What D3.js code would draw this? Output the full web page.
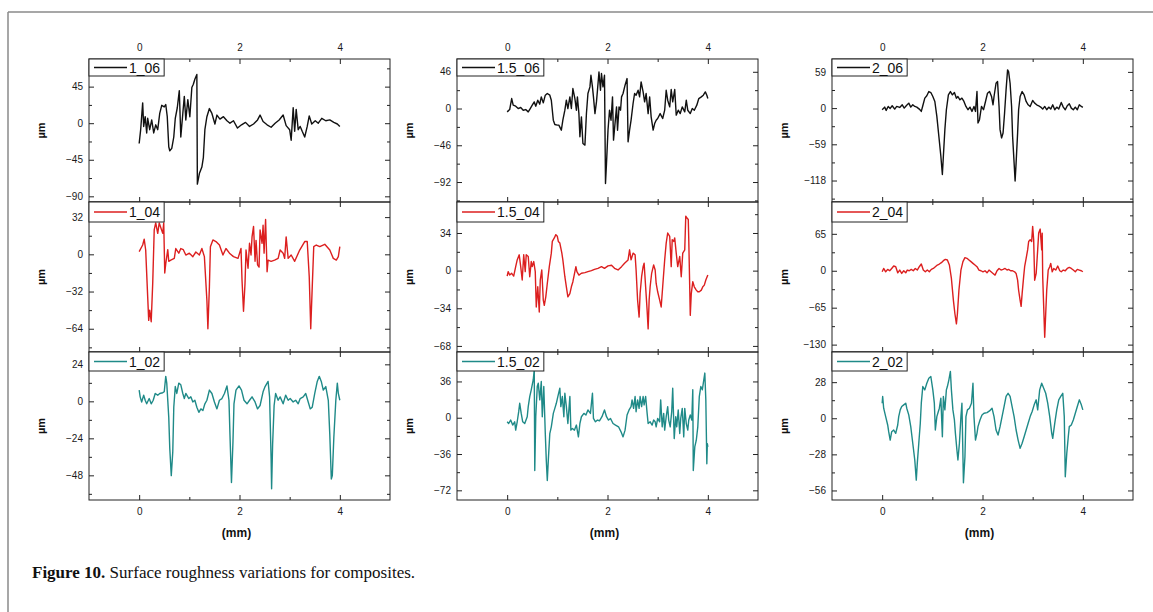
<!DOCTYPE html>
<html><head><meta charset="utf-8">
<script src="https://cdn.jsdelivr.net/npm/d3@7"></script>
<style>body{margin:0;background:#fff} svg{display:block}</style>
</head><body>
<svg id="c" width="1153" height="612"></svg>
<script>
// ---------- data (x in mm, y in µm) ----------
const s1_06 = [[0,-25],[0.03,-8],[0.07,25],[0.09,-4],[0.12,8],[0.15,-12],[0.17,6],[0.21,-8],[0.25,4],[0.29,-12],[0.33,-2],[0.37,-8],[0.41,12],[0.45,22],[0.50,20],[0.53,23],[0.56,8],[0.59,-29],[0.61,-34],[0.65,-31],[0.69,-17],[0.72,6],[0.76,19],[0.80,40],[0.83,-17],[0.87,12],[0.90,33],[0.93,4],[0.97,29],[1.01,8],[1.05,44],[1.08,48],[1.11,54],[1.15,60],[1.16,-75],[1.20,-62],[1.25,-54],[1.28,-42],[1.31,-8],[1.35,8],[1.40,18],[1.45,12],[1.51,-1],[1.55,10],[1.61,5],[1.68,8],[1.75,3],[1.81,0],[1.88,3],[1.96,-6],[2.04,-2],[2.12,1],[2.20,-4],[2.28,-1],[2.36,4],[2.41,10],[2.47,2],[2.55,-2],[2.63,-5],[2.71,0],[2.79,4],[2.87,10],[2.93,-3],[3.00,-8],[3.03,-21],[3.07,19],[3.10,-10],[3.13,17],[3.17,-8],[3.21,-4],[3.25,-10],[3.30,-17],[3.35,-4],[3.39,9],[3.44,-1],[3.51,3],[3.57,0],[3.64,6],[3.72,3],[3.80,4],[3.88,1],[3.95,-1],[4.00,-4]];
const s1_04 = [[0,2.3],[0.07,8],[0.10,13],[0.13,3.7],[0.17,-36.6],[0.19,-56.8],[0.21,-48],[0.24,-58],[0.27,-25],[0.30,21],[0.33,27],[0.37,18],[0.40,27],[0.47,18],[0.49,27],[0.51,-16],[0.53,-8],[0.57,4],[0.59,-6],[0.63,-5],[0.70,-3.5],[0.73,5],[0.79,1],[0.83,5],[0.88,4],[0.93,-0.6],[1.00,1],[1.07,-2],[1.13,2],[1.20,-0.6],[1.25,5],[1.30,-2],[1.35,-39.5],[1.37,-64],[1.40,-28],[1.42,6.6],[1.47,12.4],[1.53,11],[1.60,8],[1.67,-0.6],[1.73,5],[1.80,1],[1.88,-2],[1.97,-3.5],[2.03,5],[2.05,-22],[2.08,-49],[2.11,-25],[2.13,3.7],[2.17,-12],[2.20,9.5],[2.23,-0.6],[2.25,15],[2.28,24],[2.31,-6],[2.33,12],[2.36,-9],[2.39,-11],[2.41,21],[2.45,9.5],[2.47,25],[2.49,1],[2.52,30],[2.55,-15],[2.57,-5],[2.63,-6],[2.70,-5],[2.77,-3.5],[2.81,3.7],[2.87,1],[2.90,-3.5],[2.93,15],[2.97,-3.5],[3.03,-0.6],[3.10,-6],[3.20,3.7],[3.30,11],[3.35,11],[3.39,-19],[3.42,-64],[3.45,-28],[3.48,6.6],[3.53,8],[3.60,6.6],[3.70,8.6],[3.80,3.7],[3.87,-3.5],[3.93,-5],[3.97,-2],[4.00,6.6]];
const s1_02 = [[0,7.3],[0.02,2.9],[0.05,-0.4],[0.09,4],[0.12,0.7],[0.15,-1.6],[0.20,1.8],[0.24,-1.6],[0.28,0.7],[0.32,5.1],[0.37,4],[0.41,5.1],[0.47,5.6],[0.50,6.2],[0.53,16.2],[0.55,11.8],[0.59,-10.4],[0.61,-30.4],[0.64,-48.2],[0.67,-32.7],[0.69,-3.8],[0.72,9.6],[0.75,5.1],[0.79,11.8],[0.83,10.7],[0.87,5.1],[0.90,1.8],[0.93,5.1],[0.99,1.8],[1.03,2.9],[1.07,-0.4],[1.11,0.7],[1.15,-3.8],[1.19,-7.1],[1.23,-4.9],[1.27,-6],[1.31,-1.6],[1.35,0.7],[1.40,7.3],[1.45,5.1],[1.50,-0.4],[1.55,-4.9],[1.60,0.7],[1.65,1.8],[1.70,5.1],[1.75,10],[1.79,0.7],[1.81,-21.6],[1.84,-52.7],[1.87,-26],[1.89,-1.6],[1.93,7.3],[1.99,10],[2.04,7.3],[2.09,0.7],[2.15,-1.6],[2.20,0.7],[2.25,2.9],[2.31,-0.4],[2.36,-4.9],[2.41,-2.7],[2.47,6.2],[2.51,9.6],[2.55,11.8],[2.57,12.9],[2.60,2.9],[2.63,-37.1],[2.64,-56.7],[2.66,-28.2],[2.69,-2.7],[2.72,5.1],[2.77,0.7],[2.81,2.9],[2.87,-1.6],[2.92,4],[2.97,0.7],[3.01,1.8],[3.07,-0.4],[3.12,0.7],[3.17,-1.6],[3.21,1.8],[3.27,2.9],[3.32,5.1],[3.37,-0.4],[3.41,-4.9],[3.45,-3.8],[3.50,5.1],[3.55,12.9],[3.59,16.2],[3.63,12.9],[3.67,7.3],[3.72,9.6],[3.77,0.7],[3.80,-21.6],[3.83,-50.4],[3.85,-48.2],[3.88,-23.8],[3.92,0.7],[3.95,11.8],[3.97,5.1],[4.00,0.7]];
const s15_06 = [[0,-4.2],[0.05,-1.3],[0.09,12.5],[0.12,4.2],[0.17,2.9],[0.22,0],[0.27,1.3],[0.32,-2.1],[0.37,-1.3],[0.42,-4.2],[0.46,0],[0.50,4.2],[0.54,8.3],[0.57,2.9],[0.61,10.4],[0.65,5.4],[0.68,14.6],[0.72,7.1],[0.76,16.7],[0.80,18.8],[0.85,16.7],[0.88,10.4],[0.92,-14.6],[0.95,-20],[1.00,-20.8],[1.03,-20.8],[1.08,-27.1],[1.11,-14.6],[1.15,-2.1],[1.18,10.4],[1.21,0],[1.25,14.6],[1.28,0],[1.31,25],[1.35,12.5],[1.38,-2.1],[1.40,14.6],[1.43,-6.3],[1.45,-35.4],[1.48,-10.4],[1.51,-43.8],[1.55,-45.8],[1.58,-6.3],[1.61,18.8],[1.65,27.1],[1.67,41.7],[1.70,27.1],[1.72,14.6],[1.75,-6.3],[1.78,8.3],[1.80,22.9],[1.83,45.8],[1.86,22.9],[1.88,43.8],[1.91,27.1],[1.94,41.7],[1.96,-93.8],[1.98,-68.8],[2.01,-27.1],[2.04,-2.1],[2.07,-14.6],[2.10,14.6],[2.12,-39.6],[2.15,-18.8],[2.18,2.1],[2.20,-27.1],[2.23,2.1],[2.26,-2.1],[2.28,14.6],[2.31,18.8],[2.35,29.2],[2.39,37.5],[2.41,-41.7],[2.44,-27.1],[2.47,-14.6],[2.51,6.3],[2.54,18.8],[2.57,16.7],[2.61,22.9],[2.64,14.6],[2.67,33.3],[2.71,20.8],[2.74,8.3],[2.77,18.8],[2.81,-6.3],[2.84,14.6],[2.87,-10.4],[2.91,-27.1],[2.94,-18.8],[2.97,-14.6],[3.00,-12.5],[3.05,-6.3],[3.10,-12.5],[3.14,-2.1],[3.17,22.9],[3.20,10.4],[3.24,2.1],[3.27,23.8],[3.30,8.3],[3.34,23.8],[3.37,-8.3],[3.41,-2.1],[3.45,-6.3],[3.49,2.1],[3.54,-4.2],[3.57,10.4],[3.60,-2.1],[3.65,-6.3],[3.69,0],[3.73,-2.1],[3.78,4.2],[3.82,12.5],[3.87,14.6],[3.91,16.7],[3.95,20.8],[3.98,16.7],[4.00,12.5]];
const s15_04 = [[0,-4.9],[0.02,-0.9],[0.05,-4],[0.09,-2.4],[0.13,-4.9],[0.17,3.6],[0.20,9.7],[0.24,14.3],[0.27,3.6],[0.30,-8.5],[0.33,14.3],[0.36,-0.9],[0.38,14.3],[0.42,12.8],[0.45,-5.5],[0.48,8.2],[0.50,3.6],[0.53,8.2],[0.56,-0.9],[0.58,-32.8],[0.61,-14.6],[0.64,-37.4],[0.66,-8.5],[0.69,0.6],[0.72,-26.7],[0.74,-31.3],[0.77,-23.7],[0.80,-11.6],[0.84,3.6],[0.88,15.8],[0.90,26.4],[0.94,29.5],[0.97,32.5],[1.00,31],[1.02,26.4],[1.05,24.9],[1.09,15.8],[1.11,9.7],[1.15,-5.5],[1.18,-14.6],[1.21,-23.7],[1.25,-20.7],[1.28,-14.6],[1.31,-10],[1.35,-0.9],[1.37,3.6],[1.39,-0.9],[1.43,-4],[1.48,-2.4],[1.55,-1.8],[1.61,-0.9],[1.68,0],[1.74,1.2],[1.81,2.1],[1.88,3.6],[1.94,2.1],[2.01,4.3],[2.08,4.9],[2.14,2.1],[2.21,0.6],[2.28,3.6],[2.34,6.7],[2.41,9.7],[2.44,18.8],[2.47,9.7],[2.51,15.8],[2.55,14.3],[2.57,0.6],[2.60,-26.7],[2.63,-42],[2.65,-20.7],[2.68,-5.5],[2.71,3.6],[2.73,6.7],[2.76,-14.6],[2.79,-35.9],[2.81,-52.6],[2.83,-26.7],[2.85,-14.6],[2.88,-2.4],[2.92,5.2],[2.95,0.6],[2.97,-11.6],[3.00,-19.1],[3.04,-26.7],[3.07,-32.8],[3.10,-14.6],[3.14,9.7],[3.17,24.9],[3.20,34],[3.24,31],[3.27,3.6],[3.29,28],[3.32,26.4],[3.34,29.5],[3.37,15.8],[3.40,3.6],[3.44,12.8],[3.47,-5.5],[3.50,15.8],[3.54,18.8],[3.56,49.2],[3.58,47.7],[3.61,46.2],[3.62,28],[3.65,-40.4],[3.67,-20.7],[3.70,-10],[3.73,-14.6],[3.77,-17.6],[3.80,-19.1],[3.83,-19.1],[3.87,-17.6],[3.90,-14.6],[3.93,-13.1],[3.96,-8.5],[4.00,-4]];
const s15_02 = [[0,-4],[0.03,-5.7],[0.07,-2.3],[0.11,-7.3],[0.15,-4],[0.17,-12.3],[0.20,-4],[0.23,6],[0.25,14.3],[0.28,4.3],[0.31,-4],[0.35,-5.7],[0.40,1],[0.42,11],[0.45,21],[0.48,27.7],[0.52,37.7],[0.54,47.7],[0.55,-52.3],[0.57,1],[0.60,31],[0.62,34.3],[0.65,17.7],[0.68,36],[0.70,1],[0.73,31],[0.76,-15.7],[0.78,-42.3],[0.80,-62.3],[0.82,-42.3],[0.85,-15.7],[0.88,-9],[0.92,4.3],[0.95,9.3],[0.98,14.3],[1.01,21],[1.05,29.3],[1.07,11],[1.10,21],[1.13,1],[1.15,24.3],[1.18,11],[1.21,-5.7],[1.25,21],[1.27,-12.3],[1.30,-10.7],[1.34,-12.3],[1.38,-7.3],[1.42,-19],[1.45,-5.7],[1.48,1],[1.53,4.3],[1.57,2.7],[1.61,7.7],[1.66,4.3],[1.70,24.3],[1.72,-0.7],[1.76,-4],[1.80,-2.3],[1.84,-3],[1.89,1],[1.94,7.7],[1.98,1],[2.02,-2.3],[2.06,-0.7],[2.11,-5.7],[2.16,-7.3],[2.22,-9],[2.27,-14],[2.31,-19],[2.35,-12.3],[2.39,2.7],[2.43,7.7],[2.47,11],[2.49,17.7],[2.52,9.3],[2.55,21],[2.57,6],[2.60,17.7],[2.63,9.3],[2.65,21],[2.68,11],[2.71,21],[2.73,12.7],[2.76,21],[2.79,4.3],[2.81,-5.7],[2.85,-4],[2.89,-7.3],[2.92,-2.3],[2.95,-4],[2.97,-9],[3.00,-0.7],[3.04,-4],[3.06,17.7],[3.09,-9],[3.12,4.3],[3.14,-12.3],[3.17,1],[3.20,11],[3.22,-2.3],[3.25,-9],[3.28,6],[3.30,29.3],[3.33,-20.7],[3.36,1],[3.38,-9],[3.41,7.7],[3.44,-15.7],[3.46,-0.7],[3.49,9.3],[3.52,-19],[3.54,9.3],[3.57,-5.7],[3.60,-12.3],[3.62,-2.3],[3.65,2.7],[3.68,-2.3],[3.70,27.7],[3.71,-52.3],[3.74,-29],[3.77,-22.3],[3.80,-9],[3.83,21],[3.86,31],[3.89,27.7],[3.91,34.3],[3.94,44.3],[3.96,17.7],[3.98,-45.7],[3.99,-25.7],[4.00,-29]];
const s2_06 = [[0,-2.7],[0.05,1.6],[0.08,-3.8],[0.12,2.7],[0.16,-0.5],[0.20,3.8],[0.25,-1.6],[0.29,2.7],[0.35,1.1],[0.40,5.4],[0.44,0],[0.48,3.8],[0.53,8.1],[0.57,1.6],[0.61,5.4],[0.65,2.7],[0.69,1.6],[0.74,-1.6],[0.78,-5.4],[0.81,3.8],[0.85,16.2],[0.89,20],[0.93,27],[0.97,25.4],[1.01,18.9],[1.05,10.8],[1.09,-13.5],[1.13,-45.9],[1.17,-78.4],[1.20,-108.1],[1.22,-78.4],[1.25,-35.1],[1.28,-2.7],[1.32,21.6],[1.36,27],[1.40,21.6],[1.44,25.4],[1.48,16.2],[1.51,18.9],[1.55,13.5],[1.59,16.2],[1.63,10.8],[1.67,2.7],[1.71,-2.7],[1.75,1.6],[1.79,-5.4],[1.83,2.7],[1.86,-5.4],[1.89,27],[1.91,-24.3],[1.94,-18.9],[1.98,2.7],[2.02,-2.7],[2.06,10.8],[2.10,24.3],[2.14,27],[2.18,18.9],[2.21,5.4],[2.23,18.9],[2.27,40.5],[2.30,43.2],[2.33,2.7],[2.35,-35.1],[2.38,-48.6],[2.41,-40.5],[2.44,-8.1],[2.47,29.7],[2.50,62.2],[2.52,59.5],[2.55,40.5],[2.58,2.7],[2.60,-45.9],[2.63,-89.2],[2.65,-118.9],[2.67,-89.2],[2.70,-40.5],[2.72,-2.7],[2.75,18.9],[2.79,27],[2.83,21.6],[2.87,10.8],[2.91,5.4],[2.95,2.7],[3.00,12.4],[3.04,8.1],[3.08,5.4],[3.12,3.8],[3.16,1.6],[3.20,-1.6],[3.24,2.7],[3.28,-2.7],[3.32,1.6],[3.36,-1.6],[3.40,5.4],[3.44,-2.7],[3.48,1.6],[3.52,-1.6],[3.57,9.2],[3.61,1.6],[3.65,-2.7],[3.69,3.8],[3.73,7],[3.77,0],[3.81,-2.7],[3.85,1.6],[3.89,-2.7],[3.93,5.4],[3.97,2.7],[4.00,1.1]];
const s2_04 = [[0,-1.8],[0.03,4.1],[0.07,-1.8],[0.11,2.4],[0.15,0],[0.19,4.1],[0.23,8.3],[0.27,7.1],[0.31,-3.6],[0.35,1.2],[0.39,-4.7],[0.43,0],[0.47,-3.6],[0.50,1.2],[0.54,0],[0.58,2.4],[0.62,0],[0.66,4.1],[0.70,1.2],[0.74,7.1],[0.78,11.8],[0.82,1.2],[0.86,-1.8],[0.90,1.2],[0.94,-1.8],[0.98,2.4],[1.02,4.1],[1.06,7.1],[1.10,10.1],[1.14,11.8],[1.18,14.2],[1.22,17.8],[1.26,20.1],[1.30,18.9],[1.34,10.1],[1.38,-13.6],[1.42,-52.1],[1.45,-75.7],[1.48,-93.5],[1.50,-75.7],[1.53,-34.3],[1.57,1.2],[1.61,16],[1.65,23.1],[1.69,21.9],[1.73,18.9],[1.77,16],[1.81,13],[1.85,10.1],[1.89,7.1],[1.93,1.2],[1.97,0],[2.01,-1.8],[2.05,0],[2.09,-3.6],[2.13,1.2],[2.17,-1.8],[2.21,-4.7],[2.25,-7.7],[2.29,0],[2.33,4.1],[2.37,1.2],[2.41,2.4],[2.45,4.1],[2.49,1.2],[2.52,2.4],[2.56,0],[2.60,0],[2.64,-1.8],[2.67,-4.7],[2.70,-16.6],[2.72,-34.3],[2.75,-52.1],[2.77,-62.7],[2.79,-40.2],[2.82,-10.7],[2.84,7.1],[2.87,21.9],[2.90,36.7],[2.92,51.5],[2.95,54.4],[2.98,51.5],[3.00,78.1],[3.02,54.4],[3.04,-16.6],[3.07,-4.7],[3.10,36.7],[3.12,66.3],[3.15,73.4],[3.18,36.7],[3.19,66.3],[3.20,-10.7],[3.22,-63.9],[3.24,-117.2],[3.26,-75.7],[3.28,-34.3],[3.31,1.2],[3.34,7.1],[3.36,13],[3.39,-1.8],[3.42,4.1],[3.46,1.2],[3.50,8.3],[3.54,0],[3.57,-1.8],[3.61,1.2],[3.65,0],[3.69,4.1],[3.73,5.9],[3.77,4.1],[3.81,1.2],[3.85,-1.8],[3.89,2.4],[3.93,1.2],[3.97,0],[4.00,-1.8]];
const s2_02 = [[0,11.7],[0.01,16.9],[0.03,7.8],[0.07,1.3],[0.11,-5.2],[0.13,-10.4],[0.16,-16.9],[0.19,-10.4],[0.23,-9.1],[0.27,-11.7],[0.31,-5.2],[0.33,1.3],[0.36,6.5],[0.39,9.1],[0.43,10.4],[0.47,11.7],[0.49,7.8],[0.53,2.6],[0.57,-6.5],[0.61,-19.4],[0.65,-32.4],[0.68,-48],[0.70,-35],[0.73,-19.4],[0.76,-3.9],[0.78,11.7],[0.81,24.6],[0.85,22],[0.89,27.2],[0.93,31.1],[0.97,32.4],[1.01,22],[1.04,11.7],[1.06,-9.1],[1.09,1.3],[1.12,5.2],[1.14,7.8],[1.17,15.6],[1.20,-14.3],[1.22,16.9],[1.25,6.5],[1.28,22],[1.30,24.6],[1.33,29.8],[1.36,36.3],[1.38,22],[1.41,6.5],[1.44,-1.3],[1.46,-11.7],[1.49,-24.6],[1.51,-32.4],[1.54,-19.4],[1.57,1.3],[1.59,11.7],[1.62,-50],[1.65,-29.8],[1.67,1.3],[1.70,6.5],[1.74,7.8],[1.78,11.7],[1.81,27.2],[1.83,1.3],[1.86,-16.9],[1.89,-11.7],[1.91,-6.5],[1.95,-1.3],[1.99,2.6],[2.03,3.9],[2.09,4.4],[2.14,5.7],[2.19,7.8],[2.23,1.3],[2.27,-9.1],[2.31,-13],[2.35,-6.5],[2.39,1.3],[2.43,9.1],[2.47,16.9],[2.51,19.4],[2.55,16.9],[2.59,9.1],[2.63,1.3],[2.67,-9.1],[2.71,-16.9],[2.75,-23.3],[2.79,-19.4],[2.83,-14.3],[2.87,-9.1],[2.91,-3.9],[2.95,1.3],[2.99,5.2],[3.03,10.4],[3.07,14.3],[3.10,6.5],[3.14,22],[3.18,27.2],[3.22,23.3],[3.26,19.4],[3.30,11.7],[3.34,1.3],[3.38,-11.7],[3.40,-15.6],[3.44,-3.9],[3.48,6.5],[3.52,14.3],[3.56,16.9],[3.60,19.4],[3.63,1.3],[3.65,-45.4],[3.68,-27.2],[3.71,-14.3],[3.73,-6.5],[3.77,-5.2],[3.81,-1.3],[3.85,3.9],[3.89,9.1],[3.93,14.3],[3.97,10.4],[4.00,6.5]];

const seriesNames = [["1_06","1_04","1_02"],["1.5_06","1.5_04","1.5_02"],["2_06","2_04","2_02"]];
const seriesData  = [[s1_06,s1_04,s1_02],[s15_06,s15_04,s15_02],[s2_06,s2_04,s2_02]];
const yTickSets = [[[-90,-45,0,45],[-64,-32,0,32],[-48,-24,0,24]],
                   [[-92,-46,0,46],[-68,-34,0,34],[-72,-36,0,36]],
                   [[-118,-59,0,59],[-130,-65,0,65],[-56,-28,0,28]]];
const yDomains = [[[-97,79],[-84,45],[-64,32]],
                  [[-117,62],[-73.5,62],[-81.6,65.2]],
                  [[-153,80],[-143,121],[-63.4,51.4]]];
const xDomain = [-1,5];
const xTicks = [0,2,4];
const xMinorTicks = [1,3];
const xLabel = "(mm)";
const yLabel = "µm";
const caption = ["Figure 10.", " Surface roughness variations for composites."];

// ---------- layout ----------
const colLeft = [89, 457, 832];
const plotW = 301;
const rowTop = [59, 202, 352];
const rowBot = [202, 352, 500];
const legendH = [17, 20, 19];
const colors = ["#111111", "#dc1f1f", "#1f8a88"];
const axisFont = "'Liberation Sans', Arial, sans-serif";

const svg = d3.select("#c");

// outer frame (page border)
svg.append("line").attr("x1",8).attr("x2",1153).attr("y1",12).attr("y2",12).attr("stroke","#8a8a8a").attr("stroke-width",1.5);
svg.append("line").attr("x1",8).attr("x2",8).attr("y1",12).attr("y2",612).attr("stroke","#8a8a8a").attr("stroke-width",1.5);

function styleAxis(g){
  g.select(".domain").remove();
  g.selectAll(".tick line").attr("stroke","#222").attr("stroke-width",1);
  g.selectAll(".tick text").attr("fill","#1a1a1a").style("font-family",axisFont).style("font-size","10px");
}

seriesData.forEach((col, c) => {
  const L = colLeft[c];
  const x = d3.scaleLinear().domain(xDomain).range([L, L + plotW]);
  col.forEach((data, r) => {
    const top = rowTop[r], bot = rowBot[r];
    const y = d3.scaleLinear().domain(yDomains[c][r]).range([bot, top]);
    const majors = yTickSets[c][r];
    const step = (majors[1]-majors[0]) / 2;
    const dom = yDomains[c][r];
    const minors = d3.range(Math.ceil(dom[0]/step), Math.floor(dom[1]/step)+1).map(k => k*step).filter(v => !majors.includes(v));

    const clipId = "clip" + c + r;
    svg.append("clipPath").attr("id", clipId).append("rect")
      .attr("x", L).attr("y", top).attr("width", plotW).attr("height", bot - top);

    // trace
    svg.append("path").datum(data)
      .attr("clip-path", `url(#${clipId})`)
      .attr("fill","none").attr("stroke", colors[r]).attr("stroke-width",1.4)
      .attr("stroke-linejoin","round")
      .attr("d", d3.line().x(d => x(d[0])).y(d => y(d[1])));

    // y axes (left with labels, right mirrored)
    svg.append("g").attr("transform",`translate(${L},0)`)
      .call(d3.axisLeft(y).tickValues(majors).tickSize(-5).tickPadding(6).tickFormat(d3.format("d"))).call(styleAxis);
    svg.append("g").attr("transform",`translate(${L},0)`)
      .call(d3.axisLeft(y).tickValues(minors).tickSize(-3).tickFormat("")).call(styleAxis);
    svg.append("g").attr("transform",`translate(${L+plotW},0)`)
      .call(d3.axisRight(y).tickValues(majors).tickSize(-5).tickFormat("")).call(styleAxis);
    svg.append("g").attr("transform",`translate(${L+plotW},0)`)
      .call(d3.axisRight(y).tickValues(minors).tickSize(-3).tickFormat("")).call(styleAxis);

    // x axes (top and bottom of each panel)
    svg.append("g").attr("transform",`translate(0,${top})`)
      .call(d3.axisTop(x).tickValues(xTicks).tickSize(-5).tickPadding(8).tickFormat(r === 0 ? d3.format("d") : "")).call(styleAxis);
    svg.append("g").attr("transform",`translate(0,${top})`)
      .call(d3.axisTop(x).tickValues(xMinorTicks).tickSize(-3).tickFormat("")).call(styleAxis);
    svg.append("g").attr("transform",`translate(0,${bot})`)
      .call(d3.axisBottom(x).tickValues(xTicks).tickSize(-5).tickPadding(8).tickFormat(r === 2 ? d3.format("d") : "")).call(styleAxis);
    svg.append("g").attr("transform",`translate(0,${bot})`)
      .call(d3.axisBottom(x).tickValues(xMinorTicks).tickSize(-3).tickFormat("")).call(styleAxis);

    // frame
    svg.append("rect").attr("x", L).attr("y", top).attr("width", plotW).attr("height", bot - top)
      .attr("fill","none").attr("stroke","#222").attr("stroke-width",1);

    // legend
    const lg = svg.append("g").attr("transform",`translate(${L},${top})`);
    const rect = lg.append("rect").attr("x",0).attr("y",0).attr("height",legendH[r])
      .attr("fill","#fff").attr("stroke","#222").attr("stroke-width",1);
    lg.append("line").attr("x1",5).attr("x2",38).attr("y1",legendH[r]/2).attr("y2",legendH[r]/2)
      .attr("stroke",colors[r]).attr("stroke-width",1.3);
    const t = lg.append("text").attr("x",40).attr("y",legendH[r]/2).attr("dy","0.36em")
      .style("font-family",axisFont).style("font-size","14px").attr("fill","#111")
      .text(seriesNames[c][r]);
    const tw = t.node().getComputedTextLength();
    rect.attr("width", 40 + tw + 4);

    // y label
    svg.append("text")
      .attr("transform",`translate(${L-44},${(top+bot)/2}) rotate(-90)`)
      .attr("text-anchor","middle")
      .style("font-family",axisFont).style("font-size","11px").style("font-weight","bold").attr("fill","#111")
      .text(yLabel);
  });

  // x label
  svg.append("text").attr("x", L + plotW/2 - 3).attr("y", 537).attr("text-anchor","middle")
    .style("font-family",axisFont).style("font-size","12px").style("font-weight","bold").attr("fill","#111")
    .text(xLabel);
});

// caption
const cap = svg.append("text").attr("x",32).attr("y",578)
  .style("font-family","'Liberation Serif','Times New Roman',serif").style("font-size","17px").attr("fill","#111");
cap.append("tspan").style("font-weight","bold").text(caption[0]);
cap.append("tspan").text(caption[1]);
</script>
</body></html>
